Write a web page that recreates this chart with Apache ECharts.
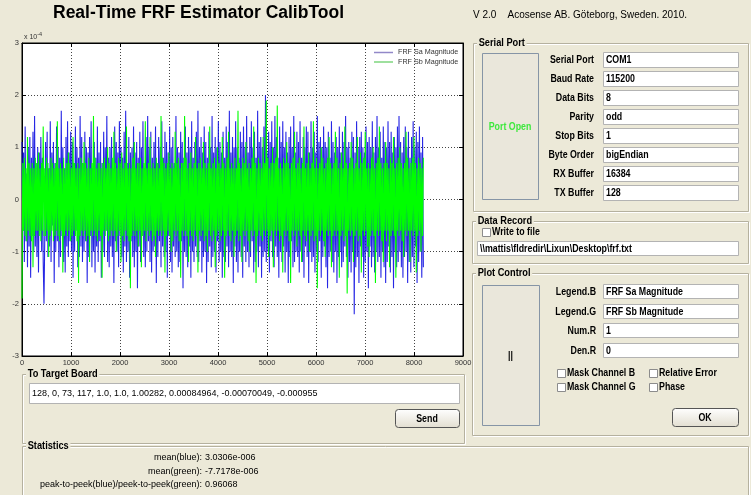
<!DOCTYPE html>
<html>
<head>
<meta charset="utf-8">
<script src="https://cdn.jsdelivr.net/npm/echarts@6/dist/echarts.min.js"></script>
<style>html,body{margin:0;padding:0;background:#ECE9D8;}#chart{width:751px;height:495px;}</style>
</head>
<body>
<div id="chart"></div>
<script>
// ---- data (signal values in units of 1e-4, read as an envelope of the dense trace) ----
var sampleCount = 8192;
var seriesNames = ['FRF Sa Magnitude', 'FRF Sb Magnitude'];
var xTicks = [0, 1000, 2000, 3000, 4000, 5000, 6000, 7000, 8000, 9000];
var yTicks = [-3, -2, -1, 0, 1, 2, 3];
var blueSignal = [
1.1,-0.6,0.9,-1.2,1.4,-0.8,0.5,-1.3,1.0,-0.9,1.2,-1.5,0.8,-0.7,1.3,-1.0,
1.6,-0.9,0.7,-1.1,1.0,-1.4,0.9,-0.6,1.2,-1.0,0.8,-1.2,-2.0,-0.7,1.1,-0.8,
1.3,-1.1,0.6,-0.9,1.5,-1.2,0.9,-0.5,1.1,-1.6,0.7,-1.0,1.4,-0.8,1.0,-1.3,
0.8,-1.1,1.7,-0.7,1.0,-1.2,0.6,-1.4,1.2,-0.9,1.5,-1.1,0.9,-0.8,1.3,-1.0,
1.1,-1.5,0.7,-1.0,1.4,-0.6,1.0,-1.3,0.8,-1.1,1.6,-0.9,1.2,-1.2,0.7,-1.0,
1.3,-0.8,1.0,-1.6,0.9,-1.1,1.2,-0.7,1.5,-1.3,0.6,-1.0,1.1,-1.4,0.8,-0.9,
1.4,-1.2,0.9,-0.8,1.1,-1.5,0.7,-1.0,1.3,-1.1,1.0,-0.6,1.6,-1.2,0.8,-1.3,
1.0,-0.9,1.2,-1.1,0.6,-1.6,1.4,-0.8,1.1,-1.0,0.9,-1.3,1.5,-0.7,1.0,-1.1,
0.8,-1.4,1.3,-0.9,1.7,-1.2,0.7,-1.0,1.2,-1.5,0.9,-0.8,1.0,-1.1,1.4,-1.3,
0.9,-1.0,1.1,-1.7,0.8,-0.9,1.3,-1.2,1.0,-0.7,1.5,-1.1,0.6,-1.3,1.2,-1.0,
1.6,-0.8,1.0,-1.2,1.3,-1.4,0.8,-1.0,1.1,-0.9,1.4,-1.6,0.7,-1.1,1.2,-0.8,
1.0,-1.3,1.5,-0.9,0.8,-1.1,1.3,-1.0,1.1,-1.5,0.9,-0.7,1.4,-1.2,1.0,-1.4,
1.2,-0.9,0.7,-1.1,1.6,-1.0,1.0,-1.3,0.9,-1.2,1.3,-0.8,1.1,-1.7,0.8,-1.0,
1.4,-1.1,0.9,-1.3,1.2,-0.9,1.0,-1.5,1.5,-1.0,0.8,-1.2,1.1,-0.9,1.3,-1.1,
1.7,-1.2,1.0,-0.8,1.2,-1.4,0.9,-1.1,1.4,-1.0,1.1,-1.6,0.8,-1.2,1.3,-0.9,
1.0,-1.3,1.6,-1.1,0.9,-1.0,1.2,-1.4,1.0,-0.8,1.5,-1.2,1.1,-1.0,0.9,-1.5,
1.3,-1.1,0.8,-1.2,1.4,-0.9,1.1,-1.3,1.7,-1.0,0.9,-1.1,1.2,-1.6,1.0,-0.9,
1.5,-1.2,1.0,-1.4,0.8,-1.0,1.3,-1.1,1.1,-1.5,1.4,-0.9,1.0,-1.2,1.6,-1.0,
0.9,-1.3,1.2,-1.1,1.5,-0.8,1.0,-1.4,1.3,-1.2,0.8,-1.0,1.7,-1.3,1.1,-0.9,
1.2,-1.5,1.0,-1.1,1.4,-1.0,2.0,-1.2,0.9,-1.0,1.3,-1.4,1.1,-0.8,1.5,-1.1,
1.0,-1.3,1.6,-0.9,1.2,-1.1,0.8,-1.5,1.4,-1.0,1.1,-1.2,1.5,-0.9,1.0,-1.4,
1.3,-1.0,0.9,-1.6,1.2,-1.1,1.4,-0.8,1.0,-1.3,1.6,-1.2,0.9,-1.0,1.3,-1.1,
1.1,-1.4,1.5,-1.0,0.8,-1.2,1.2,-1.5,1.0,-0.9,1.4,-1.1,1.3,-1.6,0.9,-1.0,
1.5,-1.2,1.0,-1.1,1.3,-1.4,0.9,-1.0,1.6,-1.2,1.1,-0.8,1.2,-1.5,1.0,-1.1,
1.4,-0.9,1.1,-1.3,1.0,-1.7,1.3,-1.1,0.8,-1.0,1.5,-1.2,1.1,-1.4,0.9,-1.0,
1.2,-1.6,1.0,-1.1,1.4,-1.0,0.9,-1.3,1.3,-1.2,1.1,-0.9,1.6,-1.1,1.0,-1.5,
1.1,-1.2,0.8,-1.4,1.3,-1.0,1.2,-2.2,0.9,-1.3,1.5,-1.1,1.0,-1.6,1.2,-0.9,
1.3,-1.1,1.0,-1.5,0.9,-1.2,1.4,-1.0,1.1,-1.7,1.2,-0.9,1.0,-1.3,1.5,-1.1,
0.9,-1.4,1.2,-1.0,1.6,-1.2,1.0,-1.1,1.3,-1.5,0.8,-1.0,1.4,-1.3,1.1,-1.6,
1.0,-1.2,1.5,-0.9,1.1,-1.4,1.3,-1.1,0.9,-1.7,1.2,-1.0,1.0,-1.3,1.4,-1.2,
1.6,-1.0,1.1,-1.3,0.9,-1.5,1.2,-1.1,1.4,-1.0,1.0,-1.6,1.3,-1.2,0.8,-1.4,
1.2,-1.1,1.5,-1.3,1.0,-0.9,1.3,-1.6,1.1,-1.2,1.4,-1.0,0.9,-1.5,1.2,-1.3
];
var greenSignal = [
-1.9,0.7,-0.6,0.8,-0.7,0.6,-0.8,1.2,-0.6,0.7,-0.7,0.6,-0.8,0.7,-1.3,0.6,
-0.7,0.8,-0.6,0.7,-0.6,0.9,-0.7,0.6,-0.8,0.7,-0.6,1.4,-0.7,0.6,-0.7,0.8,
-0.6,0.7,-1.1,0.6,-0.7,0.8,-0.6,0.7,-0.8,0.6,-0.7,0.7,-0.6,1.5,-0.7,0.6,
-0.8,0.7,-0.6,0.6,-1.4,0.8,-0.7,0.6,-0.6,0.7,-0.7,0.9,-0.6,0.7,-0.8,0.6,
-0.7,1.2,-0.6,0.7,-0.7,0.6,-0.8,0.7,-1.6,0.6,-0.7,0.8,-0.6,0.7,-0.7,1.1,
-0.6,0.7,-0.8,0.6,-0.7,0.8,-1.2,0.6,-0.6,0.7,-0.7,1.6,-0.6,0.8,-0.7,0.6,
-0.8,0.7,-0.6,0.7,-0.7,0.6,-1.5,0.7,-0.6,0.8,-0.7,0.6,-0.6,1.0,-0.8,0.7,
-0.7,0.6,-0.6,0.8,-0.7,1.3,-0.6,0.7,-1.0,0.6,-0.7,0.8,-0.6,0.7,-1.2,0.9,
-0.7,0.6,-0.8,0.7,-0.6,1.4,-0.7,0.6,-0.8,0.7,-1.7,0.6,-0.7,0.8,-0.6,1.1,
-0.7,0.6,-0.6,0.7,-0.9,0.7,-0.6,0.8,-1.3,0.6,-0.7,0.7,-0.6,1.5,-0.8,0.6,
-0.6,0.7,-0.7,1.2,-0.6,0.6,-0.8,0.7,-0.7,0.6,-1.1,0.8,-0.6,0.7,-0.7,0.6,
-0.6,1.6,-0.7,0.8,-0.6,0.7,-1.4,0.6,-0.7,0.7,-0.6,0.9,-0.7,0.6,-1.0,0.7,
-0.8,0.6,-0.6,1.3,-0.7,0.7,-0.6,0.8,-0.8,0.6,-1.5,0.7,-0.6,0.7,-0.7,1.6,
-0.6,0.8,-0.7,0.6,-1.2,0.7,-0.6,0.9,-0.7,0.6,-0.8,0.7,-0.6,1.2,-0.7,0.6,
-1.4,0.7,-0.6,0.8,-0.7,0.6,-0.6,1.1,-0.8,0.7,-0.7,0.6,-1.0,0.7,-0.6,1.4,
-0.7,0.6,-0.8,0.7,-0.6,0.8,-1.3,0.6,-0.7,1.0,-0.6,0.7,-0.8,0.6,-0.7,1.2,
-0.6,0.7,-1.5,0.6,-0.7,0.8,-0.6,1.3,-0.7,0.6,-0.8,0.7,-0.6,0.6,-1.1,0.8,
-0.7,0.6,-0.6,1.7,-0.8,0.7,-0.7,0.6,-1.2,0.8,-0.6,0.7,-0.7,1.1,-0.6,0.6,
-0.8,0.7,-1.0,0.6,-0.6,0.8,-0.7,1.4,-0.6,0.7,-1.6,0.6,-0.7,0.8,-0.6,0.7,
-0.7,0.6,-0.8,1.2,-0.6,0.7,-0.7,1.9,-0.6,0.8,-1.1,0.6,-0.7,0.7,-0.6,1.0,
-1.3,0.7,-0.6,0.8,-0.7,1.8,-0.6,0.6,-0.8,0.7,-0.7,0.6,-1.4,0.8,-0.6,0.7,
-0.7,1.1,-0.6,0.7,-0.8,0.6,-1.6,0.7,-0.6,0.8,-0.7,1.3,-0.6,0.6,-0.9,0.7,
-0.6,0.8,-0.7,0.6,-1.2,0.7,-0.6,1.4,-0.7,0.6,-0.8,0.7,-0.6,0.9,-1.0,0.6,
-0.7,0.7,-0.6,1.5,-0.8,0.6,-0.7,0.8,-1.7,0.6,-0.6,0.7,-0.7,1.0,-0.6,0.8,
-0.8,0.6,-1.1,0.7,-0.6,0.8,-0.7,1.2,-0.6,0.7,-1.3,0.6,-0.7,0.7,-0.6,1.3,
-0.7,0.8,-0.6,0.6,-1.5,0.7,-0.7,0.9,-0.6,0.6,-0.8,1.4,-0.7,0.7,-1.8,0.6,
-0.6,0.7,-0.7,1.1,-0.6,0.8,-1.2,0.6,-0.7,0.7,-0.6,1.2,-0.8,0.6,-0.7,0.9,
-1.4,0.7,-0.6,0.8,-0.7,1.3,-0.6,0.6,-0.9,0.7,-1.1,0.6,-0.7,0.8,-0.6,1.0,
-0.7,0.6,-1.6,0.7,-0.6,0.8,-0.7,1.4,-0.6,0.7,-0.8,0.6,-1.2,0.7,-0.6,1.1,
-0.8,0.7,-0.6,0.6,-1.3,0.8,-0.7,0.7,-0.6,1.2,-0.7,0.6,-1.5,0.7,-0.6,0.8,
-0.7,1.0,-0.6,0.7,-0.8,0.6,-1.1,0.7,-0.6,1.3,-0.7,0.8,-0.6,0.6,-1.2,0.7,
-0.6,0.8,-0.7,1.2,-0.6,0.7,-1.4,0.6,-0.7,0.8,-0.6,0.7,-1.0,0.6,-0.7,0.8
];
// GUI texts
var titleText = 'Real-Time FRF Estimator CalibTool';
var versionText = 'V 2.0    Acosense AB. Göteborg, Sweden. 2010.';
var serialLabels = ['Serial Port', 'Baud Rate', 'Data Bits', 'Parity', 'Stop Bits', 'Byte Order', 'RX Buffer', 'TX Buffer'];
var serialValues = ['COM1', '115200', '8', 'odd', '1', 'bigEndian', '16384', '128'];
var recordPath = '\\\\mattis\\fldredir\\Lixun\\Desktop\\frf.txt';
var plotLabels = ['Legend.B', 'Legend.G', 'Num.R', 'Den.R'];
var plotValues = ['FRF Sa Magnitude', 'FRF Sb Magnitude', '1', '0'];
var targetText = '128, 0, 73, 117, 1.0, 1.0, 1.00282, 0.00084964, -0.00070049, -0.000955';
var statLabels = ['mean(blue):', 'mean(green):', 'peak-to-peek(blue)/peek-to-peek(green):'];
var statValues = ['3.0306e-006', '-7.7178e-006', '0.96068'];

// ---- build ----
var FONT = '"Liberation Sans", Arial, sans-serif';
function pairs(arr) {
  var step = (sampleCount - 1) / (arr.length - 1);
  return arr.map(function (v, i) { return [i * step, v]; });
}
var g = [];
function txt(x, y, s, o) {
  o = o || {};
  g.push({ type: 'text', x: x, y: y, z: o.z || 20, silent: true, scaleX: o.sx || 1, style: {
    text: s, fill: o.color || '#000', fontFamily: FONT, fontSize: o.size || 10,
    fontWeight: o.weight || 'normal', align: o.align || 'left', verticalAlign: 'middle',
    backgroundColor: o.bg, padding: o.bg ? [0, 2] : 0 } });
}
function btxt(x, y, s, o) {
  o = o || {};
  o.weight = 'bold'; o.size = o.size || 10.5; o.sx = o.sx || 0.84;
  txt(x, y, s, o);
}
function rect(x, y, w, h, fill, stroke, r, z) {
  g.push({ type: 'rect', z: z || 10, silent: true, shape: { x: x + 0.5, y: y + 0.5, width: w, height: h, r: r || 0 },
    style: { fill: fill, stroke: stroke, lineWidth: 1 } });
}
function frame(x, y, w, h, title) {
  rect(x + 1, y + 1, w, h, 'none', '#ffffff', 0, 9);
  rect(x, y, w, h, 'none', '#b5b19f', 0, 10);
  btxt(x + 4, y, title, { bg: '#ECE9D8', size: 11, sx: 0.84 });
}
function box(x, y, w, h, s, plain) {
  rect(x, y, w, h, '#ffffff', '#b3b3b3', 0, 11);
  if (plain) txt(x + 3, y + h / 2 + 1, s, { size: 9 });
  else btxt(x + 3, y + h / 2 + 1, s);
}
function button(x, y, w, h, s, o) {
  g.push({ type: 'rect', z: 11, silent: true, shape: { x: x + 0.5, y: y + 0.5, width: w, height: h, r: o.r || 0 },
    style: { stroke: o.stroke || '#6f6f6f', lineWidth: 1,
      fill: o.grad ? new echarts.graphic.LinearGradient(0, 0, 0, 1, [{ offset: 0, color: '#ffffff' }, { offset: 1, color: '#e2ded0' }]) : '#EAE7DB' } });
  btxt(x + w / 2, y + h / 2 + 1, s, { align: 'center', color: o.color || '#000', size: o.size || 10.5 });
}
function check(x, y, s) {
  rect(x, y, 8, 8, '#ffffff', '#8c8c8c', 0, 11);
  btxt(x + 10, y + 4.5, s);
}

txt(53, 13, titleText, { weight: 'bold', size: 17.5 });
txt(473, 15, versionText, { size: 10 });

frame(473, 43, 275, 168, 'Serial Port');
button(482, 53, 56, 146, 'Port Open', { stroke: '#8695a6', color: '#3ee83e' });
serialLabels.forEach(function (s, i) {
  btxt(594, 60 + 19 * i, s, { align: 'right' });
  box(603, 52 + 19 * i, 135, 15, serialValues[i]);
});

frame(472, 221, 276, 42, 'Data Record');
check(482, 228, 'Write to file');
box(477, 241, 261, 14, recordPath);

frame(472, 273, 276, 162, 'Plot Control');
button(482, 285, 57, 140, '||', { stroke: '#8695a6' });
plotLabels.forEach(function (s, i) {
  var top = [284, 304, 323, 343][i];
  btxt(596, top + 8, s, { align: 'right' });
  box(603, top, 135, 14, plotValues[i]);
});
check(557, 369, 'Mask Channel B');
check(557, 383, 'Mask Channel G');
check(649, 369, 'Relative Error');
check(649, 383, 'Phase');
button(672, 408, 66, 18, 'OK', { grad: true, r: 3, stroke: '#555' });

frame(22, 374, 442, 69, 'To Target Board');
box(29, 383, 430, 20, targetText, true);
button(395, 409, 64, 18, 'Send', { grad: true, r: 3, stroke: '#555' });

frame(22, 446, 726, 60, 'Statistics');
statLabels.forEach(function (s, i) {
  txt(202, 458 + 13.5 * i, s, { align: 'right', size: 9 });
  txt(205, 458 + 13.5 * i, statValues[i], { size: 9 });
});

// exponent label
g.push({ type: 'text', x: 24, y: 37, z: 20, silent: true, style: {
  text: 'x 10{s|-4}', fill: '#333', fontFamily: FONT, fontSize: 7, verticalAlign: 'middle',
  rich: { s: { fontSize: 5.5, fontFamily: FONT, fill: '#333', verticalAlign: 'top', padding: [0, 0, 6, 0] } } } });

var chart = echarts.init(document.getElementById('chart'), null, { renderer: 'canvas' });
var axLbl = { fontSize: 7.5, color: '#333', fontFamily: FONT, margin: 3, formatter: function (v) { return String(v); } };
var split = { show: true, lineStyle: { color: '#444', type: [1, 2], width: 1 } };
function ax(pos, main, ticks) {
  return {
    type: 'value', min: ticks[0], max: ticks[ticks.length - 1], interval: ticks[1] - ticks[0], position: pos,
    axisLine: { show: true, onZero: false, lineStyle: { color: '#000' } },
    axisTick: { show: true, inside: true, length: 4, lineStyle: { color: '#000' } },
    axisLabel: main ? axLbl : { show: false }, splitLine: main ? split : { show: false }
  };
}
chart.setOption({
  animation: false,
  backgroundColor: '#ECE9D8',
  grid: { left: 22, top: 43, width: 441, height: 313, show: true, backgroundColor: '#ffffff', borderColor: '#000', borderWidth: 1 },
  legend: {
    orient: 'vertical', left: 374, top: 49, itemWidth: 19, itemHeight: 1.5, itemGap: 2.5, padding: 0, icon: 'rect',
    textStyle: { fontSize: 7.2, color: '#333', fontFamily: FONT },
    data: [{ name: seriesNames[0], itemStyle: { color: '#9288c8' } }, { name: seriesNames[1], itemStyle: { color: '#7ed67e' } }]
  },
  xAxis: [ax('bottom', true, xTicks), ax('top', false, xTicks)],
  yAxis: [ax('left', true, yTicks), ax('right', false, yTicks)],
  series: [
    { name: seriesNames[0], type: 'line', data: pairs(blueSignal), showSymbol: false, symbol: 'none',
      lineStyle: { color: 'rgba(16,16,225,0.9)', width: 1.1 }, itemStyle: { color: '#9288c8' }, z: 2 },
    { name: seriesNames[1], type: 'line', data: pairs(greenSignal), showSymbol: false, symbol: 'none',
      lineStyle: { color: '#00ff00', width: 1.1 }, itemStyle: { color: '#7ed67e' }, z: 3 }
  ],
  graphic: g
});
</script>
</body>
</html>
